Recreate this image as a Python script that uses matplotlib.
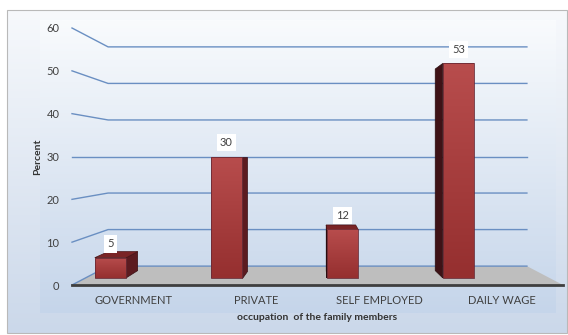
import numpy as np
import matplotlib.pyplot as plt
from matplotlib.colors import to_rgb
from matplotlib.patches import Polygon, Rectangle

# data
categories = ['GOVERNMENT', 'PRIVATE', 'SELF EMPLOYED', 'DAILY WAGE']
percent = [5, 30, 12, 53]
y_ticks = [0, 10, 20, 30, 40, 50, 60]

W, H = 568, 335
plt.rcParams['font.family'] = ['Lato', 'DejaVu Sans']

# perspective settings (front plane -> back wall)
XC, VC = 2.0, 30.0      # vanishing point in front-plane data units
S_BACK = 0.853          # scale of the back wall
S_FRONT_BAR, S_BACK_BAR = 0.945, 0.888
BAR_LEFT, BAR_RIGHT = 0.08, 0.35   # bar span inside its category slot


def proj(x, v, s):
    return XC + (x - XC) * s, VC + (v - VC) * s


def vgrad(top, bottom, n=256):
    t = np.linspace(0, 1, n)[:, None, None]
    return (1 - t) * np.array(to_rgb(top)) + t * np.array(to_rgb(bottom))


fig = plt.figure(figsize=(W / 100, H / 100), dpi=100)
fig.patch.set_facecolor('white')

# background: chart area + plot area gradients
bg = fig.add_axes([0, 0, 1, 1])
bg.set_xlim(0, W)
bg.set_ylim(H, 0)
bg.axis('off')
bg.imshow(vgrad('#f7f9fc', '#cbd8ea'), extent=(7, 567, 333, 10), aspect='auto')
bg.imshow(vgrad('#f9fbfd', '#c5d5ea'), extent=(40, 556, 313, 20), aspect='auto')
bg.add_patch(Rectangle((7, 10), 560, 323, fill=False, ec='#b9b9b9', lw=0.8))
bg.set_xlim(0, W)
bg.set_ylim(H, 0)

ax = fig.add_axes([72 / W, 50 / H, 491 / W, 257 / H])
ax.patch.set_alpha(0)
for sp in ax.spines.values():
    sp.set_visible(False)

# floor
floor = [proj(0, 0, 1), proj(4, 0, 1), proj(4, 0, S_BACK), proj(0, 0, S_BACK)]
ax.add_patch(Polygon(floor, closed=True, fc='#bebebe', ec='none', zorder=1))

# gridlines on left wall and back wall
for v in y_ticks:
    pts = [proj(0, v, 1), proj(0, v, S_BACK), proj(4, v, S_BACK)]
    xs, ys = zip(*pts)
    ax.plot(xs, ys, color='#6a8fc2', lw=1.0, zorder=2, clip_on=False)

# floor front edge
x0, y0 = proj(0, 0, 1)
x1, y1 = proj(4, 0, 1)
ax.plot([x0, x1], [y0, y1], color='#3f3f3f', lw=2.0, zorder=3, clip_on=False)

# bars
for i, val in enumerate(percent):
    xl, xr = i + BAR_LEFT, i + BAR_RIGHT
    fl_b = proj(xl, 0, S_FRONT_BAR); fr_b = proj(xr, 0, S_FRONT_BAR)
    fl_t = proj(xl, val, S_FRONT_BAR); fr_t = proj(xr, val, S_FRONT_BAR)
    bl_b = proj(xl, 0, S_BACK_BAR); br_b = proj(xr, 0, S_BACK_BAR)
    bl_t = proj(xl, val, S_BACK_BAR); br_t = proj(xr, val, S_BACK_BAR)

    if xr < XC:
        ax.add_patch(Polygon([fr_b, fr_t, br_t, br_b], fc='#5c1b20', ec='#3a1014', lw=0.5, zorder=4))
    if xl > XC:
        ax.add_patch(Polygon([fl_b, fl_t, bl_t, bl_b], fc='#3e1216', ec='#2a0c0e', lw=0.5, zorder=4))
    if val < VC:
        ax.add_patch(Polygon([fl_t, fr_t, br_t, bl_t], fc='#7a2426', ec='#4a1416', lw=0.5, zorder=4))

    front = Polygon([fl_b, fr_b, fr_t, fl_t], fc='none', ec='#6a2a35', lw=0.6, zorder=6)
    ax.add_patch(front)
    im = ax.imshow(vgrad('#b84d4d', '#952f2f'), extent=(fl_t[0], fr_t[0], fl_b[1], fl_t[1]),
                   aspect='auto', zorder=5)
    im.set_clip_path(front)

    ax.annotate(str(val), xy=((fl_t[0] + fr_t[0]) / 2, fl_t[1]), xytext=(0, 10),
                textcoords='offset points', ha='center', va='center', fontsize=8,
                color='#404040', zorder=7,
                bbox=dict(boxstyle='square,pad=0.3', fc='white', ec='none'))

ax.set_xlim(0, 4)
ax.set_ylim(0, 60)
ax.set_yticks(y_ticks)
ax.set_xticks([i + 0.5 for i in range(len(categories))])
ax.set_xticklabels(categories)
ax.tick_params(axis='y', length=0, pad=9, labelsize=8, labelcolor='#404040')
ax.tick_params(axis='x', length=0, pad=7.5, labelsize=8, labelcolor='#404040')

fig.text(317 / W, 1 - 318 / H, 'occupation  of the family members', ha='center', va='center',
         fontsize=7.5, fontweight='bold', color='#333333')
fig.text(38 / W, 1 - 157 / H, 'Percent', ha='center', va='center', rotation=90,
         fontsize=7.5, fontweight='bold', color='#333333')

fig.savefig('out.png', dpi=100)
